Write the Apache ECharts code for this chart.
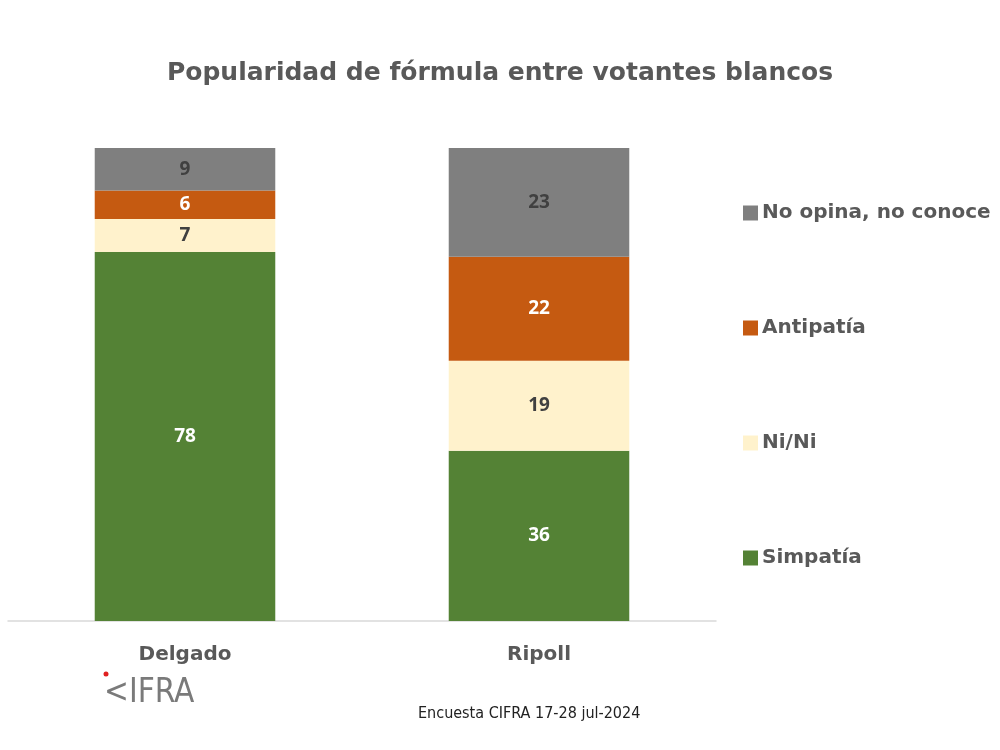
<!DOCTYPE html>
<html>
<head>
<meta charset="utf-8">
<script src="https://cdn.jsdelivr.net/npm/echarts@6/dist/echarts.min.js"></script>
<style>
  html, body { margin: 0; padding: 0; background: #fff; }
  #chart { width: 1000px; height: 750px; }
</style>
</head>
<body>
<div id="chart"></div>
<script>
const candidates = ["Delgado", "Ripoll"];
const simpatia = [78, 36];
const niNi = [7, 19];
const antipatia = [6, 22];
const noOpina = [9, 23];

const seriesNames = ["Simpatía", "Ni/Ni", "Antipatía", "No opina, no conoce"];
const seriesColors = ["#548235", "#fff2cc", "#c55a11", "#7f7f7f"];
const labelColors = ["#ffffff", "#404040", "#ffffff", "#404040"];
const seriesValues = [simpatia, niNi, antipatia, noOpina];

const chart = echarts.init(document.getElementById("chart"));

const series = seriesNames.map((name, i) => ({
    name: name,
    type: "bar",
    stack: "total",
    barWidth: "51%",
    itemStyle: { color: seriesColors[i] },
    label: {
        show: true,
        position: "inside",
        color: labelColors[i],
        fontSize: 19,
        fontWeight: "bold",
        fontFamily: "Open Sans",
    },
    data: seriesValues[i],
}));

const option = {
    backgroundColor: "#ffffff",
    title: {
        text: "Popularidad de fórmula entre votantes blancos",
        left: "center",
        top: 56,
        textStyle: {
            fontFamily: "DejaVu Sans",
            fontSize: 25,
            fontWeight: "bold",
            color: "#595959",
        },
    },
    legend: {
        orient: "vertical",
        left: 738,
        top: 198,
        itemGap: 95,
        itemWidth: 15,
        itemHeight: 15,
        icon: "rect",
        data: seriesNames.slice().reverse(),
        textStyle: {
            fontFamily: "DejaVu Sans",
            fontSize: 20,
            fontWeight: "bold",
            color: "#595959",
            padding: [0, 0, 0, -1],
        },
    },
    grid: { left: 8, right: 284, top: 148, bottom: 129 },
    xAxis: {
        type: "category",
        data: candidates,
        axisTick: { show: false },
        axisLine: { lineStyle: { color: "#d9d9d9", width: 1.5 } },
        axisLabel: {
            margin: 24,
            fontFamily: "DejaVu Sans",
            fontSize: 20,
            fontWeight: "bold",
            color: "#595959",
        },
    },
    yAxis: {
        type: "value",
        min: 0,
        max: 100,
        show: false,
    },
    series: series,
    graphic: [
        {
            type: "text",
            left: 104,
            top: 677,
            style: {
                text: "<IFRA",
                fontFamily: "DejaVu Sans Condensed",
                fontSize: 33,
                fill: "#7a7a7a",
            },
        },
        {
            type: "circle",
            shape: { cx: 106, cy: 674, r: 2.5 },
            style: { fill: "#e02020" },
        },
        {
            type: "text",
            left: 418,
            top: 706,
            style: {
                text: "Encuesta CIFRA 17-28 jul-2024",
                fontFamily: "DejaVu Sans Condensed",
                fontSize: 16,
                fill: "#222222",
            },
        },
    ],
};

chart.setOption(option);
window.addEventListener("resize", () => chart.resize());
</script>
</body>
</html>
